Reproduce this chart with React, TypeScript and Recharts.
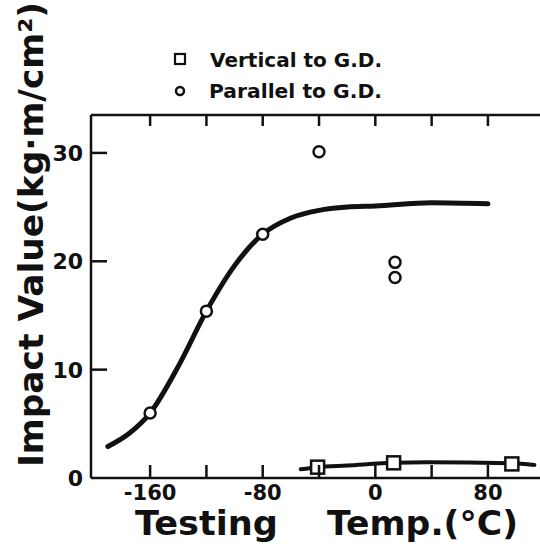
import {
  ComposedChart,
  Line,
  Scatter,
  XAxis,
  YAxis,
} from "recharts";

// measured points (circles = parallel to G.D., squares = vertical to G.D.)
const parallelTemp = [-160, -120, -80, -40, 14, 14];
const parallelImpact = [6.0, 15.4, 22.5, 30.1, 19.9, 18.5];
const verticalTemp = [-41, 13, 97];
const verticalImpact = [1.0, 1.4, 1.3];

// fitted curves as drawn in the figure
const parallelCurveTemp = [-190, -175, -160, -140, -120, -100, -80, -60, -40, -20, 0, 40, 80];
const parallelCurveImpact = [2.9, 4.1, 6.0, 10.3, 15.4, 19.6, 22.5, 24.0, 24.7, 25.0, 25.1, 25.4, 25.3];
const verticalCurveTemp = [-53, -41, -20, 13, 37, 97, 113];
const verticalCurveImpact = [0.8, 1.0, 1.15, 1.4, 1.45, 1.35, 1.2];

const xTicks = [-160, -120, -80, -40, 0, 40, 80];
const xLabels = [-160, -80, 0, 80];
const yTicks = [0, 10, 20, 30];
const rightTicks = [10, 20, 30];

const zip = (t: number[], v: number[]) => t.map((temp, i) => ({ temp, impact: v[i] }));

const parallelPts = zip(parallelTemp, parallelImpact);
const verticalPts = zip(verticalTemp, verticalImpact);
const parallelCurve = zip(parallelCurveTemp, parallelCurveImpact);
const verticalCurve = zip(verticalCurveTemp, verticalCurveImpact);

const FONT = "'DejaVu Sans', sans-serif";
const INK = "#111";

const BottomTick = (p: any) => {
  const { x, y, payload } = p;
  const v = payload.value;
  return (
    <g>
      <line x1={x} y1={y} x2={x} y2={y - 13} stroke={INK} strokeWidth={2.5} />
      {xLabels.includes(v) && (
        <text x={x} y={y + 22} textAnchor="middle" fontFamily={FONT} fontSize={21} fontWeight="bold" fill={INK}>
          {v}
        </text>
      )}
    </g>
  );
};

const TopTick = (p: any) => (
  <line x1={p.x} y1={p.y} x2={p.x} y2={p.y + 11} stroke={INK} strokeWidth={2.5} />
);

const LeftTick = (p: any) => {
  const { x, y, payload } = p;
  return (
    <g>
      {payload.value > 0 && <line x1={x} y1={y} x2={x + 16} y2={y} stroke={INK} strokeWidth={2.5} />}
      <text x={x - 8} y={y + 8} textAnchor="end" fontFamily={FONT} fontSize={22} fontWeight="bold" fill={INK}>
        {payload.value}
      </text>
    </g>
  );
};

const RightTick = (p: any) => (
  <line x1={p.x - 10} y1={p.y} x2={p.x} y2={p.y} stroke={INK} strokeWidth={2.5} />
);

const CircleDot = (p: any) => (
  <circle cx={p.cx} cy={p.cy} r={5.5} fill="#fff" stroke={INK} strokeWidth={2.5} />
);

const SquareDot = (p: any) => (
  <rect x={p.cx - 6.5} y={p.cy - 6.5} width={13} height={13} fill="#fff" stroke={INK} strokeWidth={2.5} />
);

export default function App() {
  return (
    <div style={{ position: "absolute", left: 0, top: 0, width: 540, height: 547, background: "#fff" }}>
      <ComposedChart width={540} height={547} margin={{ top: 0, right: 0, bottom: 0, left: 0 }}>
        <XAxis
          xAxisId="b"
          dataKey="temp"
          type="number"
          domain={[-202, 117]}
          ticks={xTicks}
          interval={0}
          height={69}
          tickSize={0}
          tickMargin={0}
          tick={<BottomTick />}
          axisLine={{ stroke: INK, strokeWidth: 2.5 }}
          allowDataOverflow
        />
        <XAxis
          xAxisId="t"
          orientation="top"
          dataKey="temp"
          type="number"
          domain={[-202, 117]}
          ticks={xTicks}
          interval={0}
          height={115}
          tickSize={0}
          tickMargin={0}
          tick={<TopTick />}
          axisLine={{ stroke: INK, strokeWidth: 2.5 }}
          allowDataOverflow
        />
        <YAxis
          yAxisId="l"
          type="number"
          domain={[0, 33.5]}
          ticks={yTicks}
          interval={0}
          width={91}
          tickSize={0}
          tickMargin={0}
          tick={<LeftTick />}
          axisLine={{ stroke: INK, strokeWidth: 2.5 }}
          allowDataOverflow
        />
        <YAxis
          yAxisId="r"
          orientation="right"
          type="number"
          domain={[0, 33.5]}
          ticks={rightTicks}
          interval={0}
          width={0}
          tickSize={0}
          tickMargin={0}
          tick={<RightTick />}
          axisLine={false}
          allowDataOverflow
        />
        <Line
          xAxisId="b"
          yAxisId="l"
          data={parallelCurve}
          dataKey="impact"
          type="monotone"
          stroke={INK}
          strokeWidth={5}
          strokeLinecap="round"
          dot={false}
          activeDot={false}
          isAnimationActive={false}
        />
        <Line
          xAxisId="b"
          yAxisId="l"
          data={verticalCurve}
          dataKey="impact"
          type="monotone"
          stroke={INK}
          strokeWidth={4}
          strokeLinecap="round"
          dot={false}
          activeDot={false}
          isAnimationActive={false}
        />
        <Scatter
          xAxisId="b"
          yAxisId="l"
          data={parallelPts}
          dataKey="impact"
          shape={<CircleDot />}
          isAnimationActive={false}
        />
        <Scatter
          xAxisId="b"
          yAxisId="l"
          data={verticalPts}
          dataKey="impact"
          shape={<SquareDot />}
          isAnimationActive={false}
        />
      </ComposedChart>
      <svg
        width={540}
        height={547}
        style={{ position: "absolute", left: 0, top: 0, pointerEvents: "none" }}
      >
        <rect x={175} y={54} width={10} height={10} fill="none" stroke={INK} strokeWidth={2.2} />
        <text x={210} y={67} fontFamily={FONT} fontSize={19} fontWeight="bold" fill={INK} textLength={172} lengthAdjust="spacingAndGlyphs">
          Vertical to G.D.
        </text>
        <circle cx={180} cy={91} r={4} fill="none" stroke={INK} strokeWidth={2.5} />
        <text x={209} y={98} fontFamily={FONT} fontSize={19} fontWeight="bold" fill={INK} textLength={173} lengthAdjust="spacingAndGlyphs">
          Parallel to G.D.
        </text>
        <text
          transform="translate(43,467) rotate(-90)"
          fontFamily={FONT}
          fontSize={34}
          fontWeight="bold"
          fill={INK}
          textLength={465}
          lengthAdjust="spacingAndGlyphs"
        >
          Impact Value(kg·m/cm²)
        </text>
        <text x={135} y={535} fontFamily={FONT} fontSize={34} fontWeight="bold" fill={INK} textLength={143} lengthAdjust="spacingAndGlyphs">
          Testing
        </text>
        <text x={327} y={535} fontFamily={FONT} fontSize={34} fontWeight="bold" fill={INK} textLength={191} lengthAdjust="spacingAndGlyphs">
          Temp.(°C)
        </text>
      </svg>
    </div>
  );
}
